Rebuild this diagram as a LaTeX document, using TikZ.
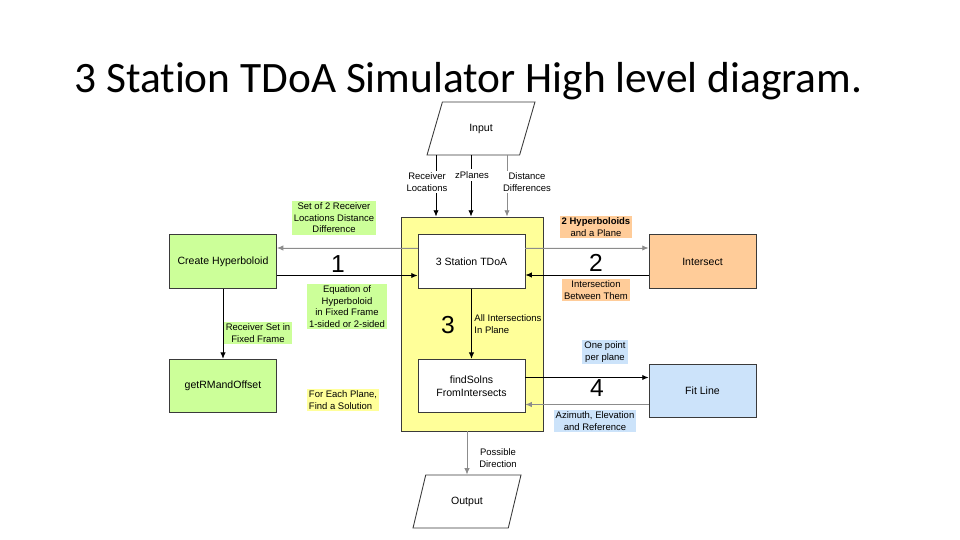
\documentclass[tikz,border=0pt]{standalone}
\usepackage{fontspec}
\setmainfont{Liberation Sans}
\newfontfamily\titlefont{Carlito}[Ligatures=NoCommon]
\usetikzlibrary{calc,shapes.geometric,arrows.meta}
\definecolor{boxgreen}{HTML}{CCFF99}
\definecolor{boxorange}{HTML}{FFCC99}
\definecolor{boxblue}{HTML}{CCE3FA}
\definecolor{boxyellow}{HTML}{FFFF99}
\definecolor{edgegray}{HTML}{3A3A3A}
\definecolor{arrowgray}{HTML}{8C8C8C}
\tikzset{
	block/.style={draw=edgegray, line width=0.5pt, minimum width=2.14cm, minimum height=1.07cm, inner sep=1pt, align=center, font=\fontsize{6}{7.2}\selectfont},
	io/.style={trapezium, trapezium left angle=67.5, trapezium right angle=112.5, trapezium stretches=true, draw=edgegray, line width=0.5pt, minimum width=2.16cm, minimum height=1.06cm, inner sep=1pt, font=\fontsize{6}{7.2}\selectfont},
	tag/.style={inner sep=1.2pt, align=center, font=\fontsize{5.4}{6.5}\selectfont},
	num/.style={inner sep=0pt, font=\fontsize{14}{14}\selectfont},
	link/.style={-{Latex[length=3.6pt,width=3pt]}, line width=0.5pt},
	back/.style={link, draw=arrowgray, fill=arrowgray},
}

\begin{document}
\begin{tikzpicture}[x=0.02cm, y=-0.02cm]
	%%%%% START %%%%%
	\useasboundingbox (0,0) rectangle (960,540);
	
	\begin{scope}
		\clip (0,0) rectangle (960,100);
		\node[anchor=base west, inner sep=0pt, font=\titlefont\fontsize{24.7}{28}\selectfont] (title) at (74,93) {3 Station TDoA Simulator High level diagram.};
	\end{scope}
	
	% input and output
	\node[io] (input) at (481,128.5) {Input};
	\node[io] (output) at (467,501.5) {Output};
	
	% solver with its two steps
	\node[block, fill=boxyellow, minimum width=2.84cm, minimum height=4.28cm] (solver) at (472,324) {};
	\node[block, fill=white] (tdoa) at (471.5,261.5) {3 Station TDoA};
	\node[block, fill=white] (solns) at (471.5,386) {findSolns\\FromIntersects};
	
	% helpers
	\node[block, fill=boxgreen] (create) at (223,261.5) {Create Hyperboloid};
	\node[block, fill=boxgreen] (getrm) at (223,386) {getRMandOffset};
	\node[block, fill=boxorange] (isect) at (702.5,261.5) {Intersect};
	\node[block, fill=boxblue] (fit) at (702.5,391) {Fit Line};
	
	% inputs into the solver
	\coordinate (rxin) at ($(input.center)+(-45,26.5)$);
	\coordinate (zin) at ($(input.center)+(-10,26.5)$);
	\coordinate (ddin) at ($(input.center)+(26,26.5)$);
	\draw[link] (rxin) -- (rxin |- solver.north);
	\draw[link] (zin) -- (zin |- solver.north);
	\draw[back] (ddin) -- (ddin |- solver.north);
	\node[tag, fill=white] (rxlbl) at (427,182) {Receiver\\Locations};
	\node[tag, fill=white] (zlbl) at (472,175) {zPlanes};
	\node[tag, fill=white] (ddlbl) at (527,182) {Distance\\Differences};
	
	% 1
	\draw[back] ($(tdoa.west)+(0,-13.5)$) -- ($(create.east)+(0,-13.5)$);
	\draw[link] ($(create.east)+(0,14)$) -- ($(tdoa.west)+(0,14)$);
	\node[num] (one) at (338,264) {1};
	\node[tag, fill=boxgreen] (setlbl) at (334,218) {Set of 2 Receiver\\Locations Distance\\Difference};
	\node[tag, fill=boxgreen] (eqlbl) at (347,306.5) {Equation of\\Hyperboloid\\in Fixed Frame\\1-sided or 2-sided};
	
	\draw[link] (create) -- (getrm);
	\node[tag, fill=boxgreen] (rxsetlbl) at (258,333) {Receiver Set in\\Fixed Frame};
	
	% 2
	\draw[back] ($(tdoa.east)+(0,-13.5)$) -- ($(isect.west)+(0,-13.5)$);
	\draw[link] ($(isect.west)+(0,13.5)$) -- ($(tdoa.east)+(0,13.5)$);
	\node[num] (two) at (596,263) {2};
	\node[tag, fill=boxorange] (hyplbl) at (596,227) {\textbf{2 Hyperboloids}\\and a Plane};
	\node[tag, fill=boxorange] (meetlbl) at (596,290) {Intersection\\Between Them};
	
	% 3
	\draw[link] (tdoa) -- (solns);
	\node[num] (three) at (448,325) {3};
	\node[tag, align=left, anchor=west] (alllbl) at (472,324) {All Intersections\\In Plane};
	\node[tag, fill=boxyellow, align=left] (eachlbl) at (343,400) {For Each Plane,\\Find a Solution};
	
	% 4
	\draw[link] ($(solns.east)+(0,-8.5)$) -- ($(fit.west)+(0,-13.5)$);
	\draw[back] ($(fit.west)+(0,13.5)$) -- ($(solns.east)+(0,18.5)$);
	\node[num] (four) at (597,388) {4};
	\node[tag, fill=boxblue] (ptlbl) at (605,352) {One point\\per plane};
	\node[tag, fill=boxblue] (azlbl) at (595,421) {Azimuth, Elevation\\and Reference};
	
	% result
	\draw[back] (output.center |- solver.south) -- (output.center |- output.north);
	\node[tag] (dirlbl) at (498,458) {Possible\\Direction};
	
	%%%%% END %%%%%
\end{tikzpicture}
\end{document}
